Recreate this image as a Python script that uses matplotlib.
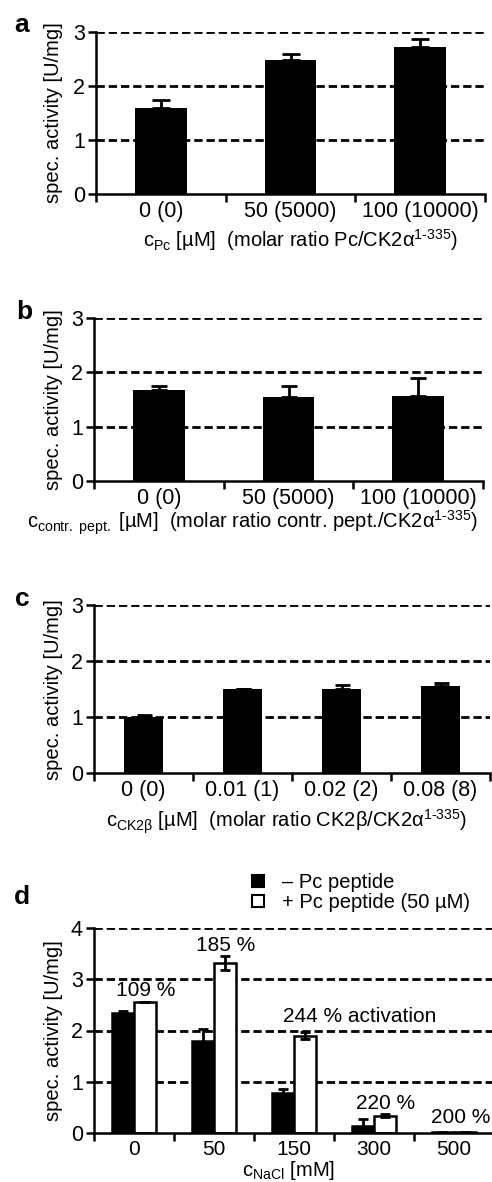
import matplotlib.pyplot as plt
import numpy as np
from matplotlib.patches import Patch

plt.rcParams['font.family'] = ['Liberation Sans', 'DejaVu Sans']
plt.rcParams['mathtext.fontset'] = 'custom'
plt.rcParams['mathtext.rm'] = 'Liberation Sans'
plt.rcParams['mathtext.it'] = 'Liberation Sans:italic'
plt.rcParams['mathtext.bf'] = 'Liberation Sans:bold'

W, H = 492, 1182

# panel a: Pc peptide
a_labels = ['0 (0)', '50 (5000)', '100 (10000)']
a_values = [1.60, 2.49, 2.72]
a_errors = [0.15, 0.11, 0.15]

# panel b: control peptide
b_labels = ['0 (0)', '50 (5000)', '100 (10000)']
b_values = [1.68, 1.54, 1.57]
b_errors = [0.07, 0.21, 0.33]

# panel c: CK2beta
c_labels = ['0 (0)', '0.01 (1)', '0.02 (2)', '0.08 (8)']
c_values = [1.00, 1.50, 1.50, 1.56]
c_errors = [0.04, 0.01, 0.07, 0.05]

# panel d: NaCl
d_labels = ['0', '50', '150', '300', '500']
d_minus = [2.35, 1.80, 0.79, 0.15, 0.02]
d_minus_err = [0.02, 0.22, 0.07, 0.12, 0.01]
d_plus = [2.56, 3.31, 1.90, 0.34, 0.03]
d_plus_err = [0.0, 0.13, 0.07, 0.03, 0.005]
d_activation = ['109 %', '185 %', '244 % activation', '220 %', '200 %']

fig = plt.figure(figsize=(W / 100, H / 100), dpi=100)


def make_axes(left, top, right, bottom):
    return fig.add_axes([left / W, 1 - bottom / H, (right - left) / W, (bottom - top) / H])


def style_axes(ax, n, ymax, tick_size, left, right):
    ax.set_xlim(-0.5, n - 0.5)
    ax.set_ylim(0, ymax)
    ax.set_yticks(range(ymax + 1))
    for y in range(1, ymax + 1):
        ax.axhline(y, color='black', lw=2, dashes=(3, 1.4), zorder=0)
    ax.spines[['top', 'right']].set_visible(False)
    ax.spines[['left', 'bottom']].set_linewidth(1.8)
    ax.set_xticks(range(n))
    ax.set_xticks(np.arange(-0.5, n), minor=True)
    ax.tick_params(axis='x', which='major', length=0, pad=5, labelsize=tick_size)
    ax.tick_params(axis='x', which='minor', length=6, width=1.8, direction='out')
    ax.tick_params(axis='y', length=6, width=1.8, pad=2, labelsize=15.5)
    ax.set_ylabel('spec. activity [U/mg]', fontsize=14.5)
    ax.yaxis.set_label_coords((63 - left) / (right - left), 0.5)


def simple_panel(rect, labels, values, errors, capsize, letter, letter_pos, xlabel, xlabel_pos):
    left, top, right, bottom = rect
    ax = make_axes(*rect)
    x = np.arange(len(values))
    ax.bar(x, values, width=0.4, color='black', zorder=2)
    ax.errorbar(x, values, yerr=[np.zeros(len(errors)), errors], fmt='none',
                ecolor='black', elinewidth=2, capsize=capsize, capthick=2, zorder=3)
    style_axes(ax, len(values), 3, 15.5, left, right)
    ax.set_xticklabels(labels)
    fig.text(letter_pos[0] / W, 1 - letter_pos[1] / H, letter, fontsize=19,
             fontweight='bold', ha='center', va='center')
    fig.text(xlabel_pos[0] / W, 1 - xlabel_pos[1] / H, xlabel, fontsize=14.5,
             ha='center', va='center')
    return ax


simple_panel((96, 32, 485, 194), a_labels, a_values, a_errors, 6.5, 'a', (22, 25),
             r'c$_\mathrm{Pc}$ [µM]  (molar ratio Pc/CK2α$^{\text{1-335}}$)', (300, 240))
simple_panel((94, 318.3, 483, 480.7), b_labels, b_values, b_errors, 6, 'b', (24, 312),
             r'c$_\mathrm{contr.\ pept.}$ [µM]  (molar ratio contr. pept./CK2α$^{\text{1-335}}$)',
             (252, 523))
simple_panel((94, 605, 490, 773.3), c_labels, c_values, c_errors, 5.4, 'c', (22, 599),
             r'c$_\mathrm{CK2β}$ [µM]  (molar ratio CK2β/CK2α$^{\text{1-335}}$)', (287, 822))

# panel d
left, top, right, bottom = 94, 927.7, 494, 1133.3
ax = make_axes(left, top, right, bottom)
x = np.arange(len(d_labels))
ax.bar(x - 0.14, d_minus, width=0.28, color='black', edgecolor='black', lw=1.8, zorder=2)
ax.bar(x + 0.14, d_plus, width=0.28, color='white', edgecolor='black', lw=1.8, zorder=2)
ax.errorbar(x - 0.14, d_minus, yerr=d_minus_err, fmt='none', ecolor='black',
            elinewidth=2, capsize=3.5, capthick=2, zorder=3)
ax.errorbar(x + 0.14, d_plus, yerr=d_plus_err, fmt='none', ecolor='black',
            elinewidth=2, capsize=3.5, capthick=2, zorder=3)
style_axes(ax, len(d_labels), 4, 15, left, right)
ax.set_xticklabels(d_labels)
for i, txt in enumerate(d_activation):
    top_val = d_plus[i] + d_plus_err[i]
    if 'activation' in txt:
        ax.annotate(txt, xy=(i - 0.14, top_val), xytext=(0, 11), textcoords='offset points',
                    ha='left', va='center', fontsize=15, annotation_clip=False)
    elif i == len(d_activation) - 1:
        # last label sits against the right edge
        ax.annotate(txt, xy=(i + 0.14, top_val), xytext=(-3.5, 10), textcoords='offset points',
                    ha='center', va='center', fontsize=15, annotation_clip=False)
    else:
        ax.annotate(txt, xy=(i + 0.14, top_val), xytext=(0, 8), textcoords='offset points',
                    ha='center', va='center', fontsize=15, annotation_clip=False)
fig.text(22 / W, 1 - 897 / H, 'd', fontsize=19, fontweight='bold', ha='center', va='center')
fig.text(289 / W, 1 - 1171 / H, r'c$_\mathrm{NaCl}$ [mM]', fontsize=14.5, ha='center', va='center')
fig.legend(handles=[Patch(fc='black', ec='black', lw=1.5), Patch(fc='white', ec='black', lw=1.5)],
           labels=['– Pc peptide', '+ Pc peptide (50 µM)'], loc='upper left',
           bbox_to_anchor=(252 / W, 1 - 873 / H), frameon=False, fontsize=14.5,
           handlelength=0.6, handleheight=0.6, handletextpad=0.9, labelspacing=0.05,
           borderaxespad=0, borderpad=0)

fig.savefig('out.png', dpi=100)
